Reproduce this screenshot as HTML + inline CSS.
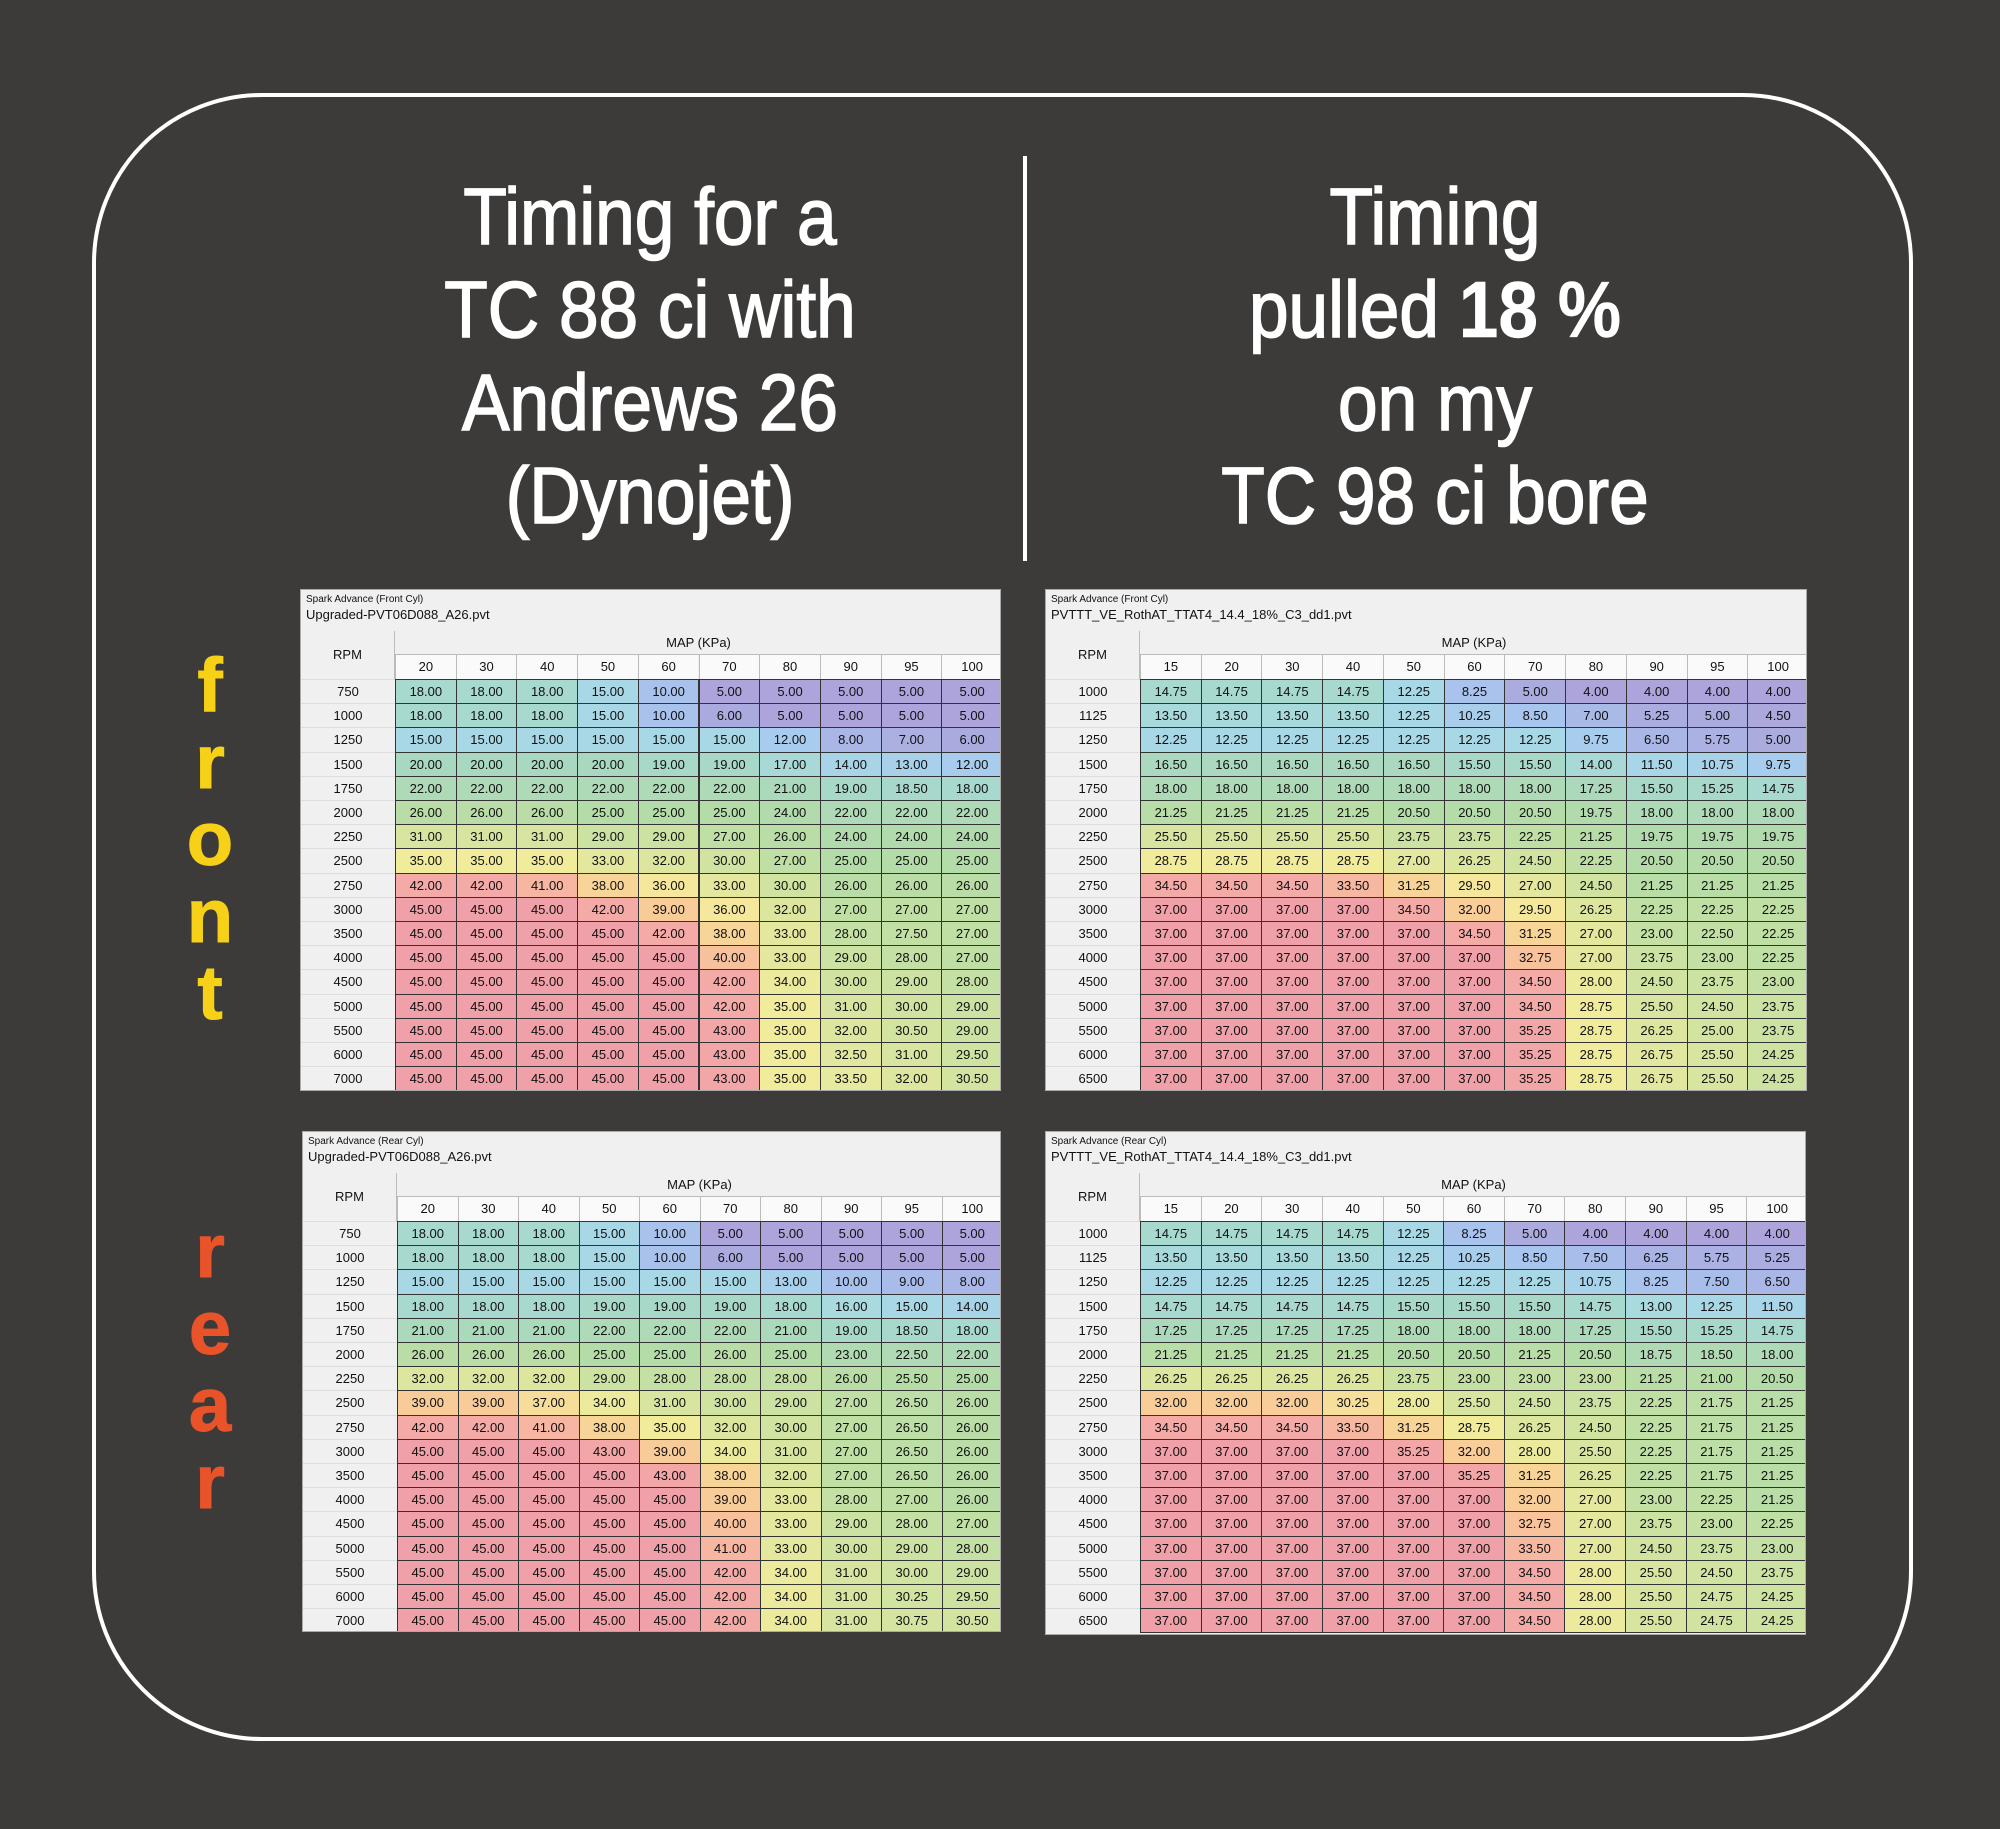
<!DOCTYPE html>
<html><head><meta charset="utf-8">
<style>
html,body{margin:0;padding:0;}
body{width:2000px;height:1829px;background:#3c3b3a;position:relative;overflow:hidden;font-family:"Liberation Sans",sans-serif;}
.frame{position:absolute;left:92px;top:93px;width:1813px;height:1640px;border:4px solid #fff;border-radius:170px;}
.div{position:absolute;left:1023px;top:156px;width:4px;height:405px;background:#fff;}
.title{position:absolute;color:#fff;font-size:80px;line-height:93px;text-align:center;width:800px;transform:scaleX(0.89);transform-origin:center;-webkit-text-stroke:1.6px #fff;}
.title b{-webkit-text-stroke:0.5px #fff;}
.side{position:absolute;width:100px;left:160px;text-align:center;font-weight:bold;font-size:76px;line-height:77px;-webkit-text-stroke:1px currentColor;}
.tbl{position:absolute;background:#f0f0f0;border:1px solid #aaa;box-sizing:border-box;overflow:hidden;}
.tbl div{position:absolute;box-sizing:border-box;white-space:nowrap;}
.c{font-size:13px;text-align:center;color:#111;}
</style></head><body>
<div class="frame"></div>
<div class="div"></div>
<div class="title" style="left:250px;top:170px;">Timing for a<br>TC 88 ci with<br>Andrews 26<br>(Dynojet)</div>
<div class="title" style="left:1035px;top:170px;">Timing<br>pulled <b>18 %</b><br>on my<br>TC 98 ci bore</div>
<div class="side" style="top:647px;color:#f7d117;">f<br>r<br>o<br>n<br>t</div>
<div class="side" style="top:1213px;color:#e8532a;">r<br>e<br>a<br>r</div>
<div id="root"></div>
<script>
function R(v,n){return Array(n).fill(v);}
const TL=[[18,18,18,15,10,5,5,5,5,5],[18,18,18,15,10,6,5,5,5,5],[15,15,15,15,15,15,12,8,7,6],[20,20,20,20,19,19,17,14,13,12],[22,22,22,22,22,22,21,19,18.5,18],[26,26,26,25,25,25,24,22,22,22],[31,31,31,29,29,27,26,24,24,24],[35,35,35,33,32,30,27,25,25,25],[42,42,41,38,36,33,30,26,26,26],[45,45,45,42,39,36,32,27,27,27],[45,45,45,45,42,38,33,28,27.5,27],[45,45,45,45,45,40,33,29,28,27],[45,45,45,45,45,42,34,30,29,28],[45,45,45,45,45,42,35,31,30,29],[45,45,45,45,45,43,35,32,30.5,29],[45,45,45,45,45,43,35,32.5,31,29.5],[45,45,45,45,45,43,35,33.5,32,30.5]];
const BL=[[18,18,18,15,10,5,5,5,5,5],[18,18,18,15,10,6,5,5,5,5],[15,15,15,15,15,15,13,10,9,8],[18,18,18,19,19,19,18,16,15,14],[21,21,21,22,22,22,21,19,18.5,18],[26,26,26,25,25,26,25,23,22.5,22],[32,32,32,29,28,28,28,26,25.5,25],[39,39,37,34,31,30,29,27,26.5,26],[42,42,41,38,35,32,30,27,26.5,26],[45,45,45,43,39,34,31,27,26.5,26],[45,45,45,45,43,38,32,27,26.5,26],[45,45,45,45,45,39,33,28,27,26],[45,45,45,45,45,40,33,29,28,27],[45,45,45,45,45,41,33,30,29,28],[45,45,45,45,45,42,34,31,30,29],[45,45,45,45,45,42,34,31,30.25,29.5],[45,45,45,45,45,42,34,31,30.75,30.5]];
const TR=[[14.75,14.75,14.75,14.75,12.25,8.25,5,4,4,4,4],[13.5,13.5,13.5,13.5,12.25,10.25,8.5,7,5.25,5,4.5],[...R(12.25,7),9.75,6.5,5.75,5],[16.5,16.5,16.5,16.5,16.5,15.5,15.5,14,11.5,10.75,9.75],[...R(18,7),17.25,15.5,15.25,14.75],[21.25,21.25,21.25,21.25,20.5,20.5,20.5,19.75,18,18,18],[25.5,25.5,25.5,25.5,23.75,23.75,22.25,21.25,19.75,19.75,19.75],[28.75,28.75,28.75,28.75,27,26.25,24.5,22.25,20.5,20.5,20.5],[34.5,34.5,34.5,33.5,31.25,29.5,27,24.5,21.25,21.25,21.25],[37,37,37,37,34.5,32,29.5,26.25,22.25,22.25,22.25],[37,37,37,37,37,34.5,31.25,27,23,22.5,22.25],[...R(37,6),32.75,27,23.75,23,22.25],[...R(37,6),34.5,28,24.5,23.75,23],[...R(37,6),34.5,28.75,25.5,24.5,23.75],[...R(37,6),35.25,28.75,26.25,25,23.75],[...R(37,6),35.25,28.75,26.75,25.5,24.25],[...R(37,6),35.25,28.75,26.75,25.5,24.25]];
const BR=[[14.75,14.75,14.75,14.75,12.25,8.25,5,4,4,4,4],[13.5,13.5,13.5,13.5,12.25,10.25,8.5,7.5,6.25,5.75,5.25],[...R(12.25,7),10.75,8.25,7.5,6.5],[...R(14.75,4),15.5,15.5,15.5,14.75,13,12.25,11.5],[...R(17.25,4),18,18,18,17.25,15.5,15.25,14.75],[...R(21.25,4),20.5,20.5,21.25,20.5,18.75,18.5,18],[...R(26.25,4),23.75,23,23,23,21.25,21,20.5],[32,32,32,30.25,28,25.5,24.5,23.75,22.25,21.75,21.25],[34.5,34.5,34.5,33.5,31.25,28.75,26.25,24.5,22.25,21.75,21.25],[37,37,37,37,35.25,32,28,25.5,22.25,21.75,21.25],[...R(37,5),35.25,31.25,26.25,22.25,21.75,21.25],[...R(37,6),32,27,23,22.25,21.25],[...R(37,6),32.75,27,23.75,23,22.25],[...R(37,6),33.5,27,24.5,23.75,23],[...R(37,6),34.5,28,25.5,24.5,23.75],[...R(37,6),34.5,28,25.5,24.75,24.25],[...R(37,6),34.5,28,25.5,24.75,24.25]];
const stops=[[0,[172,164,218]],[0.15,[168,200,240]],[0.26,[168,218,228]],[0.36,[168,216,196]],[0.5,[180,220,168]],[0.64,[212,228,160]],[0.76,[244,236,156]],[0.85,[248,204,152]],[0.93,[244,168,168]],[1,[240,160,168]]];
function col(t){for(let i=1;i<stops.length;i++){if(t<=stops[i][0]){const a=stops[i-1],b=stops[i];const f=(t-a[0])/(b[0]-a[0]);return 'rgb('+a[1].map((x,k)=>Math.round(x+(b[1][k]-x)*f)).join(',')+')';}}return 'rgb(240,160,168)';}
function table(x,y,w,h,cyl,file,cols,rows,data,mn,mx){
 let s='<div class="tbl" style="left:'+x+'px;top:'+y+'px;width:'+w+'px;height:'+h+'px">';
 s+='<div style="left:5px;top:4px;font-size:10px;color:#111">Spark Advance ('+cyl+' Cyl)</div>';
 s+='<div style="left:5px;top:17px;font-size:13px;color:#111">'+file+'</div>';
 const rw=94,cw=(w-rw)/cols.length,rh=24.2,y0=89;
 s+='<div class="c" style="left:0;top:41px;width:'+rw+'px;height:48px;line-height:48px;border-right:1px solid #bbb">RPM</div>';
 s+='<div class="c" style="left:'+rw+'px;top:41px;width:'+(w-rw)+'px;height:24px;line-height:24px;border-bottom:1px solid #bbb">MAP (KPa)</div>';
 cols.forEach((c,i)=>{s+='<div class="c" style="left:'+(rw+i*cw)+'px;top:65px;width:'+cw+'px;height:24px;line-height:24px;border-left:1px solid #bbb;background:#fafafa">'+c+'</div>';});
 rows.forEach((r,j)=>{const ty=y0+j*rh;
  s+='<div class="c" style="left:0;top:'+ty+'px;width:'+rw+'px;height:'+rh+'px;line-height:'+rh+'px;border-top:1px solid #ddd">'+r+'</div>';
  data[j].forEach((v,i)=>{const t=(v-mn)/(mx-mn);
   s+='<div class="c" style="left:'+(rw+i*cw)+'px;top:'+ty+'px;width:'+(cw+1)+'px;height:'+(rh+1)+'px;line-height:'+rh+'px;border:1px solid #333;background:'+col(t)+'">'+v.toFixed(2)+'</div>';});
 });
 return s+'</div>';
}
const lc=[20,30,40,50,60,70,80,90,95,100],rc=[15,20,30,40,50,60,70,80,90,95,100];
const lr=[750,1000,1250,1500,1750,2000,2250,2500,2750,3000,3500,4000,4500,5000,5500,6000,7000];
const rr=[1000,1125,1250,1500,1750,2000,2250,2500,2750,3000,3500,4000,4500,5000,5500,6000,6500];
let h='';
h+=table(300,589,701,502,'Front','Upgraded-PVT06D088_A26.pvt',lc,lr,TL,5,45);
h+=table(1045,589,762,502,'Front','PVTTT_VE_RothAT_TTAT4_14.4_18%_C3_dd1.pvt',rc,rr,TR,4,37);
h+=table(302,1131,699,501,'Rear','Upgraded-PVT06D088_A26.pvt',lc,lr,BL,5,45);
h+=table(1045,1131,761,504,'Rear','PVTTT_VE_RothAT_TTAT4_14.4_18%_C3_dd1.pvt',rc,rr,BR,4,37);
document.getElementById('root').innerHTML=h;
</script>
</body></html>
